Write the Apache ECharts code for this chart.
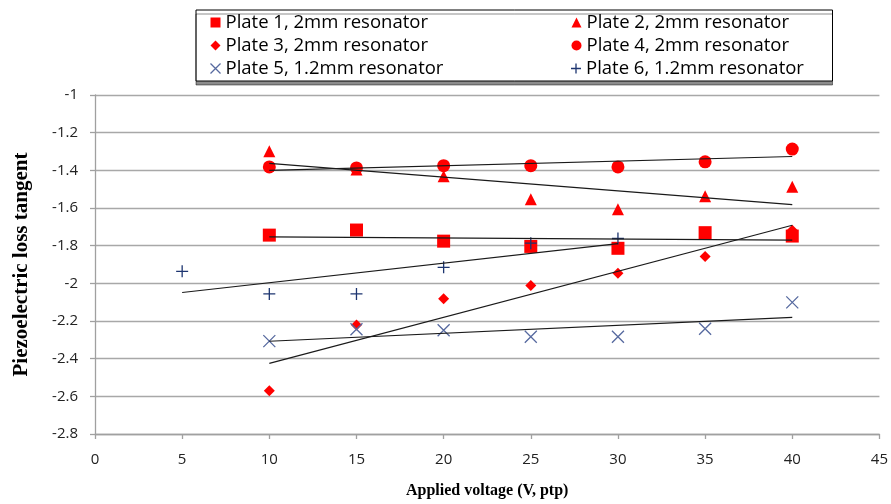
<!DOCTYPE html>
<html>
<head>
<meta charset="utf-8">
<script src="https://cdn.jsdelivr.net/npm/echarts@6/dist/echarts.min.js"></script>
<style>
  html, body { margin: 0; padding: 0; background: #fff; }
  #chart { width: 891px; height: 504px; }
</style>
</head>
<body>
<div id="chart"></div>
<script>
// Applied voltages (V, ptp) for plates 1-5 and plate 6
const voltages = [10, 15, 20, 25, 30, 35, 40];
const voltagesPlate6 = [5, 10, 15, 20, 25, 30];

// Piezoelectric loss tangent (log scale) per plate
const plate1 = [-1.744, -1.717, -1.776, -1.804, -1.814, -1.731, -1.749];
const plate2 = [-1.299, -1.396, -1.431, -1.554, -1.607, -1.537, -1.487];
const plate3 = [-2.571, -2.221, -2.082, -2.012, -1.947, -1.857, -1.718];
const plate4 = [-1.382, -1.387, -1.375, -1.375, -1.382, -1.355, -1.287];
const plate5 = [-2.307, -2.244, -2.249, -2.284, -2.284, -2.241, -2.101];
const plate6 = [-1.936, -2.056, -2.056, -1.915, -1.787, -1.762];

const seriesNames = [
  'Plate 1, 2mm resonator', 'Plate 2, 2mm resonator',
  'Plate 3, 2mm resonator', 'Plate 4, 2mm resonator',
  'Plate 5, 1.2mm resonator', 'Plate 6, 1.2mm resonator'
];

const xTicks = { min: 0, max: 45, step: 5 };
const yTicks = { min: -2.8, max: -1, step: 0.2 };

const RED = '#ff0000';
const XBLUE = '#56699f';
const PLUSBLUE = '#1d3570';
const CROSS_PATH = 'path://M0,0L10,10M10,0L0,10';
const PLUS_PATH = 'path://M5,0L5,10M0,5L10,5';

function pairs(xs, ys) {
  return xs.map((x, i) => [x, ys[i]]);
}

// Least-squares linear fit drawn across the measured voltage range
function fitLine(xs, ys) {
  const n = xs.length;
  const mx = xs.reduce((a, b) => a + b, 0) / n;
  const my = ys.reduce((a, b) => a + b, 0) / n;
  let sxy = 0, sxx = 0;
  for (let i = 0; i < n; i++) {
    sxy += (xs[i] - mx) * (ys[i] - my);
    sxx += (xs[i] - mx) * (xs[i] - mx);
  }
  const k = sxy / sxx;
  const x0 = Math.min(...xs), x1 = Math.max(...xs);
  return [[x0, my + k * (x0 - mx)], [x1, my + k * (x1 - mx)]];
}

const groups = [
  { name: seriesNames[0], xs: voltages, ys: plate1, symbol: 'rect', size: 13, style: { color: RED } },
  { name: seriesNames[1], xs: voltages, ys: plate2, symbol: 'triangle', size: 12, style: { color: RED } },
  { name: seriesNames[2], xs: voltages, ys: plate3, symbol: 'diamond', size: 11, style: { color: RED } },
  { name: seriesNames[3], xs: voltages, ys: plate4, symbol: 'circle', size: 13, style: { color: RED } },
  { name: seriesNames[4], xs: voltages, ys: plate5, symbol: CROSS_PATH, size: 12,
    style: { color: 'none', borderColor: XBLUE, borderWidth: 1.3 } },
  { name: seriesNames[5], xs: voltagesPlate6, ys: plate6, symbol: PLUS_PATH, size: 12,
    style: { color: 'none', borderColor: PLUSBLUE, borderWidth: 1.3 } }
];

const scatterSeries = groups.map(g => ({
  name: g.name,
  type: 'scatter',
  data: pairs(g.xs, g.ys),
  symbol: g.symbol,
  symbolSize: g.size,
  itemStyle: Object.assign({ opacity: 1 }, g.style),
  z: 2
}));

const trendSeries = groups.map(g => ({
  name: g.name + ' fit',
  type: 'line',
  data: fitLine(g.xs, g.ys),
  showSymbol: false,
  symbol: 'none',
  lineStyle: { color: '#1a1a1a', width: 1.2 },
  silent: true,
  z: 4
}));

// Two legend columns: left-column labels get a wider text box
const legendTextWidths = [342, 222, 342, 222, 339, 222];
const legendFont = { fontFamily: 'Open Sans', fontSize: 18.5, color: '#000', lineHeight: 19 };
const legendData = groups.map((g, i) => {
  const item = {
    name: g.name,
    icon: g.symbol,
    textStyle: Object.assign({}, legendFont, { width: legendTextWidths[i], overflow: 'none' })
  };
  if (g.style.color === 'none') {
    item.itemStyle = { color: 'none', borderColor: g.style.borderColor, borderWidth: 1.3 };
  } else {
    item.itemStyle = { color: RED, opacity: 1 };
  }
  return item;
});

const chart = echarts.init(document.getElementById('chart'), null, { renderer: 'canvas' });
chart.setOption({
  animation: false,
  backgroundColor: '#fff',
  grid: { left: 95, right: 9, top: 95, bottom: 69 },
  legend: {
    data: legendData,
    left: 196,
    top: 10,
    width: 630,
    orient: 'horizontal',
    itemWidth: 10,
    itemHeight: 10,
    itemGap: 4,
    padding: [3, 24, 3, 12],
    borderColor: '#000',
    borderWidth: 1,
    backgroundColor: '#fff',
    shadowColor: 'rgba(0,0,0,0.45)',
    shadowOffsetY: 4,
    shadowOffsetX: 0,
    shadowBlur: 0,
    selectedMode: false,
    textStyle: legendFont
  },
  xAxis: {
    type: 'value',
    min: xTicks.min,
    max: xTicks.max,
    interval: xTicks.step,
    name: 'Applied voltage (V, ptp)',
    nameLocation: 'middle',
    nameGap: 49,
    nameTextStyle: { fontFamily: 'Liberation Serif', fontWeight: 'bold', fontSize: 16, color: '#000' },
    axisLine: { onZero: false, lineStyle: { color: '#a0a0a0', width: 1.3 } },
    axisTick: { show: true, length: 5, lineStyle: { color: '#a0a0a0', width: 1.3 } },
    axisLabel: { fontFamily: 'Open Sans', fontSize: 15, color: '#222', margin: 18 },
    splitLine: { show: false }
  },
  yAxis: {
    type: 'value',
    min: yTicks.min,
    max: yTicks.max,
    interval: yTicks.step,
    name: 'Piezoelectric loss tangent',
    nameLocation: 'middle',
    nameGap: 63,
    nameTextStyle: { fontFamily: 'Liberation Serif', fontWeight: 'bold', fontSize: 21, color: '#000' },
    axisLine: { show: true, onZero: false, lineStyle: { color: '#a0a0a0', width: 1.3 } },
    axisTick: { show: true, length: 5, lineStyle: { color: '#a0a0a0', width: 1.3 } },
    axisLabel: {
      fontFamily: 'Open Sans', fontSize: 15, color: '#222', margin: 17,
      formatter: v => String(+v.toFixed(1))
    },
    splitLine: { show: true, lineStyle: { color: '#a8a8a8', width: 1.3 } }
  },
  series: scatterSeries.concat(trendSeries)
});
</script>
</body>
</html>
